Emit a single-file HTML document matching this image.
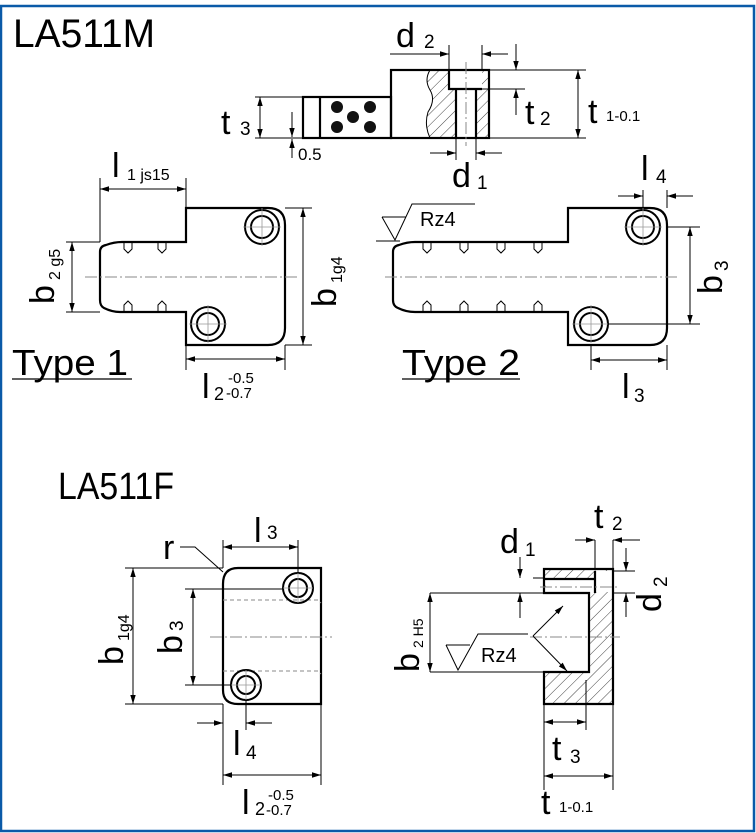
<!DOCTYPE html>
<html><head><meta charset="utf-8"><style>
html,body{margin:0;padding:0;background:#fff}
svg{display:block}
text{font-family:"Liberation Sans",sans-serif;fill:#000}
.o{fill:none;stroke:#000;stroke-width:2.2}
.t{fill:none;stroke:#000;stroke-width:1}
.c{fill:none;stroke:#888;stroke-width:1;stroke-dasharray:12 3 2 3}
.d{fill:none;stroke:#888;stroke-width:1;stroke-dasharray:4 3}
</style></head><body>
<svg width="756" height="833" viewBox="0 0 756 833" xmlns="http://www.w3.org/2000/svg">
<defs>
<marker id="a" viewBox="0 0 10 10" refX="10" refY="5" markerWidth="9" markerHeight="9" orient="auto-start-reverse" markerUnits="userSpaceOnUse"><path d="M0,2 L10,5 L0,8z" fill="#000"/></marker>
<pattern id="hp" width="8" height="8" patternUnits="userSpaceOnUse" patternTransform="rotate(45)"><line x1="0" y1="0" x2="0" y2="8" stroke="#444" stroke-width="1"/></pattern>
</defs>
<rect x="1" y="6" width="753" height="825" fill="none" stroke="#0a5aa8" stroke-width="2.5"/>

<!-- LA511M top -->
<text x="13" y="47" font-size="40" textLength="142" lengthAdjust="spacingAndGlyphs">LA511M</text>
<path d="M430,70 Q424,80 430,90 Q436,100 428,112 Q424,125 430,138 L489,138 L489,70 Z" fill="url(#hp)"/>
<rect x="449" y="70" width="33" height="19" fill="#fff"/>
<rect x="456" y="89" width="20" height="49" fill="#fff"/>
<rect x="391" y="70" width="98" height="68" class="o"/>
<path d="M430,70 Q424,80 430,90 Q436,100 428,112 Q424,125 430,138" class="t"/>
<path d="M449,70 V89 H482 M456,89 V138 M476,89 V138" class="o"/>
<line x1="466" y1="62" x2="466" y2="146" class="c"/>
<rect x="303" y="97" width="88" height="41" class="o"/>
<line x1="320" y1="97" x2="320" y2="138" class="o"/>
<g fill="#111"><circle cx="337" cy="107" r="6"/><circle cx="370" cy="107" r="6"/><circle cx="353" cy="117" r="6"/><circle cx="337" cy="127" r="6"/><circle cx="370" cy="127" r="6"/></g>
<path d="M283,138 H303 M303,97 H255 M303,138 H255" class="t"/>
<line x1="260" y1="97" x2="260" y2="138" class="t" marker-start="url(#a)" marker-end="url(#a)"/>
<text x="221" y="134" font-size="34">t</text><text x="240" y="135" font-size="19">3</text>
<line x1="292" y1="158" x2="292" y2="139" class="t" marker-end="url(#a)"/>
<line x1="292" y1="112" x2="292" y2="137" class="t" marker-end="url(#a)"/>
<text x="298" y="160" font-size="17">0.5</text>
<path d="M449,45 V70 M482,45 V70" class="t"/>
<line x1="390" y1="54" x2="449" y2="54" class="t" marker-end="url(#a)"/>
<line x1="508" y1="54" x2="482" y2="54" class="t" marker-end="url(#a)"/>
<text x="396" y="47" font-size="34">d</text><text x="424" y="48" font-size="19">2</text>
<path d="M489,70 H586 M489,138 H586 M482,89 H525" class="t"/>
<line x1="516" y1="44" x2="516" y2="70" class="t" marker-end="url(#a)"/>
<line x1="516" y1="115" x2="516" y2="89" class="t" marker-end="url(#a)"/>
<line x1="578" y1="70" x2="578" y2="138" class="t" marker-start="url(#a)" marker-end="url(#a)"/>
<text x="525" y="124" font-size="34">t</text><text x="540" y="125" font-size="19">2</text>
<text x="588" y="123" font-size="34">t</text><text x="606" y="121" font-size="15">1-0.1</text>
<path d="M456,138 V160 M476,138 V160" class="t"/>
<line x1="430" y1="153" x2="456" y2="153" class="t" marker-end="url(#a)"/>
<line x1="502" y1="153" x2="476" y2="153" class="t" marker-end="url(#a)"/>
<text x="452" y="187" font-size="34">d</text><text x="477" y="189" font-size="19">1</text>

<!-- Type 1 -->
<path d="M186,208 H268 Q285,208 285,225 V328 Q285,345 268,345 H186 V312 H120 Q112,312 104,308 Q100,306 100,300 V252 Q100,246 106,245 Q114,242 122,242 H186 Z" class="o"/>
<g class="t">
<circle cx="262" cy="227" r="17" stroke-width="2"/><circle cx="262" cy="227" r="11" stroke-width="2"/>
<circle cx="208" cy="324" r="17" stroke-width="2"/><circle cx="208" cy="324" r="11" stroke-width="2"/>
</g>
<g stroke="#999" stroke-width="0.8"><path d="M243,227 H281 M262,208 V246 M189,324 H227 M208,305 V343"/></g>
<g class="t"><path d="M124,242 v7 l4,4 l4,-4 v-7 M158,242 v7 l4,4 l4,-4 v-7 M124,312 v-7 l4,-4 l4,4 v7 M158,312 v-7 l4,-4 l4,4 v7"/></g>
<line x1="85" y1="277" x2="300" y2="277" class="c"/>
<path d="M100,242 V178 M186,208 V178 M100,242 H66 M100,312 H66 M285,208 H312 M285,345 H312 M186,345 V370 M285,345 V370" class="t"/>
<line x1="100" y1="189" x2="186" y2="189" class="t" marker-start="url(#a)" marker-end="url(#a)"/>
<text x="112" y="177" font-size="34">l</text><text x="127" y="180" font-size="16">1 js15</text>
<line x1="72" y1="242" x2="72" y2="312" class="t" marker-start="url(#a)" marker-end="url(#a)"/>
<text transform="translate(54,304) rotate(-90)" font-size="34">b</text><text transform="translate(60,280) rotate(-90)" font-size="16">2 g5</text>
<line x1="303" y1="208" x2="303" y2="345" class="t" marker-start="url(#a)" marker-end="url(#a)"/>
<text transform="translate(336,307) rotate(-90)" font-size="34">b</text><text transform="translate(342,283) rotate(-90)" font-size="16">1g4</text>
<line x1="186" y1="359" x2="285" y2="359" class="t" marker-start="url(#a)" marker-end="url(#a)"/>
<text x="202" y="398" font-size="34">l</text><text x="214" y="400" font-size="18">2</text><text x="228" y="383" font-size="15">-0.5</text><text x="226" y="398" font-size="15">-0.7</text>
<text x="12" y="375" font-size="36" textLength="116" lengthAdjust="spacingAndGlyphs">Type 1</text>
<line x1="12" y1="379" x2="132" y2="379" stroke="#000" stroke-width="1.2"/>

<!-- Type 2 -->
<path d="M568,208 H650 Q667,208 667,225 V328 Q667,345 650,345 H568 V312 H415 Q406,312 398,308 Q393,306 393,300 V252 Q393,246 399,245 Q407,242 415,242 H568 Z" class="o"/>
<g class="t">
<circle cx="643" cy="227" r="17" stroke-width="2"/><circle cx="643" cy="227" r="11" stroke-width="2"/>
<circle cx="591" cy="324" r="17" stroke-width="2"/><circle cx="591" cy="324" r="11" stroke-width="2"/>
</g>
<g stroke="#999" stroke-width="0.8"><path d="M624,227 H662 M643,208 V246 M572,324 H610 M591,305 V343"/></g>
<g class="t"><path d="M423,242 v7 l4,4 l4,-4 v-7 M460,242 v7 l4,4 l4,-4 v-7 M497,242 v7 l4,4 l4,-4 v-7 M534,242 v7 l4,4 l4,-4 v-7 M423,312 v-7 l4,-4 l4,4 v7 M460,312 v-7 l4,-4 l4,4 v7 M497,312 v-7 l4,-4 l4,4 v7 M534,312 v-7 l4,-4 l4,4 v7"/></g>
<line x1="385" y1="277" x2="680" y2="277" class="c"/>
<path d="M382,217 H406 M382,217 L395,240 L412,204 H475 M376,241 H400" class="t"/>
<text x="420" y="226" font-size="20">Rz4</text>
<path d="M643,190 V208 M667,190 V208 M667,227 H700 M608,324 H700 M591,345 V370 M667,345 V370" class="t"/>
<line x1="618" y1="196" x2="643" y2="196" class="t" marker-end="url(#a)"/>
<line x1="693" y1="196" x2="667" y2="196" class="t" marker-end="url(#a)"/>
<text x="641" y="180" font-size="34">l</text><text x="656" y="183" font-size="19">4</text>
<line x1="690" y1="227" x2="690" y2="324" class="t" marker-start="url(#a)" marker-end="url(#a)"/>
<text transform="translate(722,294) rotate(-90)" font-size="34">b</text><text transform="translate(728,271) rotate(-90)" font-size="19">3</text>
<line x1="591" y1="360" x2="667" y2="360" class="t" marker-start="url(#a)" marker-end="url(#a)"/>
<text x="622" y="398" font-size="34">l</text><text x="634" y="402" font-size="19">3</text>
<text x="402" y="375" font-size="36" textLength="118" lengthAdjust="spacingAndGlyphs">Type 2</text>
<line x1="402" y1="379" x2="520" y2="379" stroke="#000" stroke-width="1.2"/>

<!-- LA511F -->
<text x="58" y="499" font-size="38" textLength="116" lengthAdjust="spacingAndGlyphs">LA511F</text>
<path d="M238,568 H321 V704 H238 Q223,704 223,690 V584 Q223,568 238,568 Z" class="o"/>
<path d="M223,600 H318 L321,603 M223,671 H318 L321,674" class="d"/>
<line x1="210" y1="637" x2="332" y2="637" class="c"/>
<g class="t">
<circle cx="298" cy="588" r="15" stroke-width="2"/><circle cx="298" cy="588" r="9" stroke-width="2"/>
<circle cx="246" cy="685" r="15" stroke-width="2"/><circle cx="246" cy="685" r="9" stroke-width="2"/>
</g>
<g stroke="#999" stroke-width="0.8"><path d="M283,588 H313 M298,573 V603 M231,685 H261 M246,670 V700"/></g>
<path d="M125,568 H223 M125,704 H223 M185,589 H283 M185,685 H231 M223,540 V568 M298,540 V573 M223,704 V785 M321,704 V785 M246,700 V730" class="t"/>
<line x1="133" y1="568" x2="133" y2="704" class="t" marker-start="url(#a)" marker-end="url(#a)"/>
<text transform="translate(123,665) rotate(-90)" font-size="34">b</text><text transform="translate(129,641) rotate(-90)" font-size="16">1g4</text>
<line x1="193" y1="589" x2="193" y2="685" class="t" marker-start="url(#a)" marker-end="url(#a)"/>
<text transform="translate(182,654) rotate(-90)" font-size="34">b</text><text transform="translate(183,631) rotate(-90)" font-size="19">3</text>
<line x1="223" y1="547" x2="298" y2="547" class="t" marker-start="url(#a)" marker-end="url(#a)"/>
<text x="254" y="542" font-size="34">l</text><text x="267" y="539" font-size="19">3</text>
<path d="M180,547 H195 L223,572" class="t"/>
<text x="163" y="559" font-size="34">r</text>
<line x1="197" y1="723" x2="223" y2="723" class="t" marker-end="url(#a)"/>
<line x1="272" y1="723" x2="246" y2="723" class="t" marker-end="url(#a)"/>
<text x="233" y="755" font-size="34">l</text><text x="246" y="759" font-size="19">4</text>
<line x1="223" y1="775" x2="321" y2="775" class="t" marker-start="url(#a)" marker-end="url(#a)"/>
<text x="242" y="814" font-size="34">l</text><text x="255" y="815" font-size="18">2</text><text x="268" y="800" font-size="15">-0.5</text><text x="266" y="815" font-size="15">-0.7</text>

<!-- right section -->
<path d="M544,569 H613 V704 H544 V672 H589 V593 H544 Z" fill="url(#hp)"/>
<rect x="546" y="579" width="49" height="13" fill="#fff"/>
<rect x="595" y="571" width="17" height="21" fill="#fff"/>
<path d="M544,569 H613 V704 H544 V672 H589 V593 H544 Z" class="o"/>
<path d="M595,571 V593 M544,579 H595" class="o"/>
<line x1="540" y1="587" x2="620" y2="587" class="c"/>
<line x1="530" y1="637" x2="620" y2="637" class="c"/>
<path d="M533,578 H544 M430,593 H544 M430,672 H589 M613,571 H635 M613,593 H635 M595,540 V569 M613,540 V569 M544,704 V790 M613,704 V790 M586,680 V730" class="t"/>
<line x1="520" y1="557" x2="520" y2="578" class="t" marker-end="url(#a)"/>
<line x1="520" y1="618" x2="520" y2="593" class="t" marker-end="url(#a)"/>
<text x="500" y="553" font-size="34">d</text><text x="525" y="556" font-size="19">1</text>
<line x1="575" y1="540" x2="595" y2="540" class="t" marker-end="url(#a)"/>
<line x1="640" y1="540" x2="613" y2="540" class="t" marker-end="url(#a)"/>
<text x="594" y="528" font-size="34">t</text><text x="612" y="530" font-size="19">2</text>
<line x1="626" y1="548" x2="626" y2="571" class="t" marker-end="url(#a)"/>
<line x1="626" y1="617" x2="626" y2="593" class="t" marker-end="url(#a)"/>
<text transform="translate(661,612) rotate(-90)" font-size="34">d</text><text transform="translate(667,587) rotate(-90)" font-size="19">2</text>
<line x1="430" y1="593" x2="430" y2="672" class="t" marker-start="url(#a)" marker-end="url(#a)"/>
<text transform="translate(419,672) rotate(-90)" font-size="34">b</text><text transform="translate(423,648) rotate(-90)" font-size="14">2 H5</text>
<path d="M446,645 H470 M446,645 L458,670 L478,634 H528" class="t"/>
<text x="481" y="662" font-size="20">Rz4</text>
<line x1="533" y1="636" x2="563" y2="606" class="t" marker-end="url(#a)"/>
<line x1="533" y1="636" x2="567" y2="671" class="t" marker-end="url(#a)"/>
<line x1="544" y1="722" x2="586" y2="722" class="t" marker-start="url(#a)" marker-end="url(#a)"/>
<text x="552" y="760" font-size="34">t</text><text x="570" y="763" font-size="19">3</text>
<line x1="544" y1="776" x2="613" y2="776" class="t" marker-start="url(#a)" marker-end="url(#a)"/>
<text x="541" y="814" font-size="34">t</text><text x="559" y="812" font-size="15">1-0.1</text>
</svg>
</body></html>
